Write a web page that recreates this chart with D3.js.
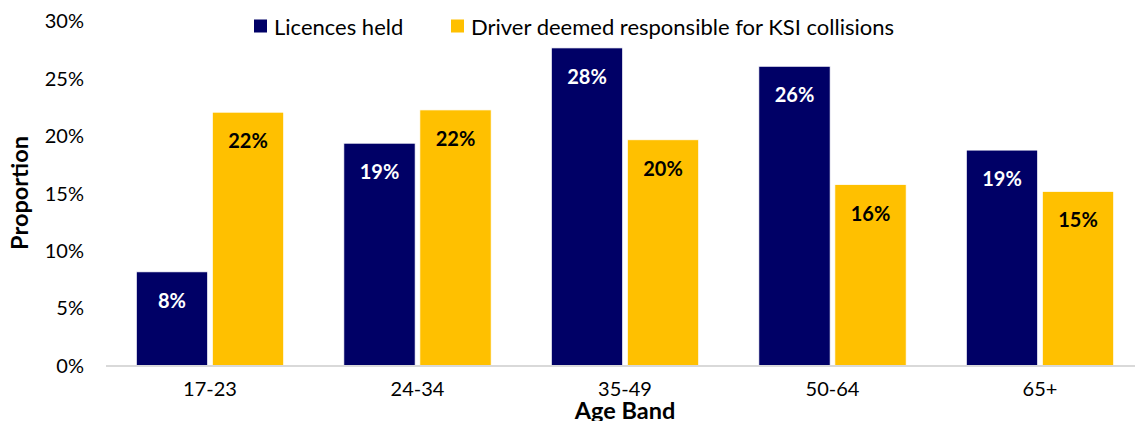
<!DOCTYPE html>
<html>
<head>
<meta charset="utf-8">
<script src="https://cdn.jsdelivr.net/npm/d3@7"></script>
<style>
  html, body { margin: 0; padding: 0; background: #fff; }
  svg { display: block; font-family: Lato, "Liberation Sans", sans-serif; }
</style>
</head>
<body>
<svg id="chart" width="1135" height="421"></svg>
<script>
// Age bands and share of each series (percent)
const ageBands = ["17-23", "24-34", "35-49", "50-64", "65+"];
const licencesHeld = [8.2, 19.4, 27.7, 26.1, 18.8];
const driverResponsible = [22.1, 22.3, 19.7, 15.8, 15.2];
const seriesNames = ["Licences held", "Driver deemed responsible for KSI collisions"];
const yTicks = [0, 5, 10, 15, 20, 25, 30];

const colors = ["#000066", "#FFC000"];
const labelColors = ["#ffffff", "#000000"];

const svg = d3.select("#chart");

const x = d3.scaleBand()
  .domain(ageBands)
  .range([106.25, 1143.75])
  .paddingInner(0.29)
  .paddingOuter(0.145);

const xSub = d3.scaleBand()
  .domain([0, 1])
  .range([0, x.bandwidth()])
  .paddingInner(0.062);

const y = d3.scaleLinear().domain([0, 30]).range([366, 21.5]);

// Y axis labels
const yAxis = d3.axisLeft(y)
  .tickValues(yTicks)
  .tickFormat(d => d + "%")
  .tickSize(0)
  .tickPadding(0);
const gy = svg.append("g").attr("transform", "translate(84,0)").call(yAxis);
gy.select(".domain").remove();
gy.selectAll("text")
  .attr("font-family", "Lato, sans-serif")
  .attr("font-size", 20)
  .attr("fill", "#000");

// Bars
const rows = ageBands.map((band, i) => ({ band, values: [licencesHeld[i], driverResponsible[i]] }));
const groups = svg.append("g").selectAll("g")
  .data(rows)
  .join("g")
  .attr("transform", d => `translate(${x(d.band)},0)`);

groups.selectAll("rect")
  .data(d => d.values.map((v, k) => ({ v, k })))
  .join("rect")
  .attr("x", d => xSub(d.k))
  .attr("width", xSub.bandwidth())
  .attr("y", d => y(d.v))
  .attr("height", d => y(0) - y(d.v))
  .attr("fill", d => colors[d.k])
  .attr("stroke", "#ffffff")
  .attr("stroke-width", 0.75);

groups.selectAll("text.val")
  .data(d => d.values.map((v, k) => ({ v, k })))
  .join("text")
  .attr("class", "val")
  .attr("x", d => xSub(d.k) + xSub.bandwidth() / 2)
  .attr("y", d => y(d.v) + 28)
  .attr("text-anchor", "middle")
  .attr("dominant-baseline", "central")
  .attr("font-weight", "bold")
  .attr("font-size", 20)
  .attr("fill", d => labelColors[d.k])
  .text(d => Math.round(d.v) + "%");

// Baseline
svg.append("line")
  .attr("x1", 106).attr("x2", 1135)
  .attr("y1", y(0)).attr("y2", y(0))
  .attr("stroke", "#d9d9d9").attr("stroke-width", 2);

// X axis labels
const xAxis = d3.axisBottom(x).tickSize(0).tickPadding(0);
const gx = svg.append("g").attr("transform", "translate(0,388)").call(xAxis);
gx.select(".domain").remove();
gx.selectAll("text")
  .attr("font-family", "Lato, sans-serif")
  .attr("font-size", 20)
  .attr("fill", "#000")
  .attr("dy", 0)
  .attr("dominant-baseline", "central");

// Axis titles
svg.append("text")
  .attr("x", 625).attr("y", 419)
  .attr("text-anchor", "middle")
  .attr("font-weight", "bold")
  .attr("font-size", 23.5)
  .text("Age Band");

svg.append("text")
  .attr("transform", "translate(19,193) rotate(-90)")
  .attr("text-anchor", "middle")
  .attr("dominant-baseline", "central")
  .attr("font-weight", "bold")
  .attr("font-size", 23.5)
  .text("Proportion");

// Legend
const legendX = [254, 451];
const legend = svg.append("g").selectAll("g")
  .data(seriesNames)
  .join("g")
  .attr("transform", (d, i) => `translate(${legendX[i]},26)`);
legend.append("rect")
  .attr("x", 0).attr("y", -6.5)
  .attr("width", 13).attr("height", 13)
  .attr("fill", (d, i) => colors[i]);
legend.append("text")
  .attr("x", 20).attr("y", 0)
  .attr("dominant-baseline", "central")
  .attr("font-size", 22)
  .attr("fill", "#000")
  .text(d => d);
</script>
</body>
</html>
